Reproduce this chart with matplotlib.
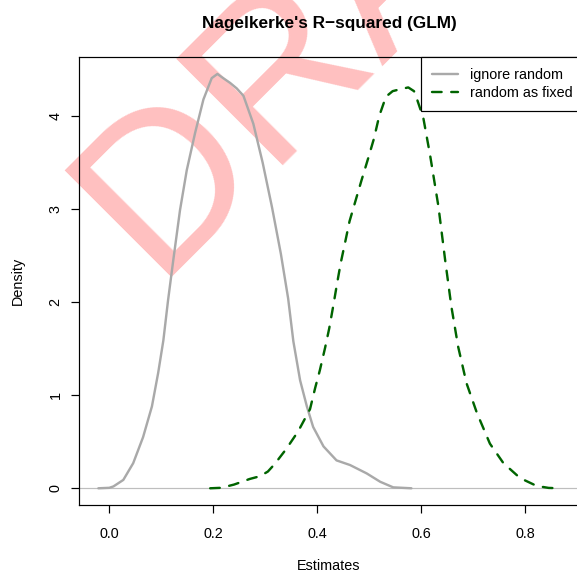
import matplotlib
matplotlib.use("Agg")
import matplotlib.pyplot as plt

plt.rcParams['font.family'] = ['Liberation Sans', 'DejaVu Sans']

# density estimates of the two R-squared variants
ignore_x = [-0.021, 0.000, 0.008, 0.027, 0.046, 0.065, 0.082, 0.094, 0.104, 0.113,
            0.123, 0.136, 0.149, 0.165, 0.181, 0.197, 0.208, 0.219, 0.232, 0.245,
            0.258, 0.277, 0.295, 0.313, 0.330, 0.344, 0.354, 0.367, 0.380, 0.392,
            0.412, 0.437, 0.463, 0.495, 0.521, 0.546, 0.581]
ignore_y = [0.0, 0.005, 0.02, 0.09, 0.27, 0.55, 0.88, 1.24, 1.59, 2.02,
            2.45, 2.99, 3.42, 3.82, 4.18, 4.41, 4.455, 4.41, 4.36, 4.30,
            4.22, 3.92, 3.50, 3.02, 2.52, 2.04, 1.58, 1.16, 0.88, 0.66,
            0.45, 0.30, 0.25, 0.16, 0.07, 0.01, 0.0]

fixed_x = [0.194, 0.215, 0.240, 0.270, 0.290, 0.305, 0.318, 0.340, 0.363, 0.386,
           0.396, 0.405, 0.415, 0.423, 0.431, 0.438, 0.445, 0.453, 0.462, 0.474,
           0.485, 0.498, 0.509, 0.519, 0.532, 0.545, 0.559, 0.575, 0.586, 0.592,
           0.604, 0.617, 0.633, 0.646, 0.658, 0.671, 0.687, 0.707, 0.732, 0.758,
           0.790, 0.822, 0.845, 0.867]
fixed_y = [0.0, 0.005, 0.04, 0.10, 0.13, 0.18, 0.26, 0.42, 0.61, 0.85,
           1.08, 1.27, 1.51, 1.72, 1.97, 2.20, 2.42, 2.63, 2.87, 3.10,
           3.31, 3.55, 3.76, 4.00, 4.21, 4.27, 4.29, 4.31, 4.27, 4.18,
           3.98, 3.58, 3.03, 2.45, 1.95, 1.52, 1.13, 0.81, 0.48, 0.27,
           0.11, 0.025, 0.004, 0.0]

xticks = [0.0, 0.2, 0.4, 0.6, 0.8]
yticks = [0, 1, 2, 3, 4]
labels = ['ignore random', 'random as fixed']

fs = 10.37   # base text size
lw = 0.864   # thin lines

fig = plt.figure(figsize=(5.77, 5.73), dpi=100)
ax = fig.add_axes([0.1374, 0.1187, 0.8655, 0.7810])
ax.patch.set_alpha(0)

# DRAFT watermark behind everything
fig.text(0.2669, 0.5161, 'DRAFT', fontsize=157.5, color=(1, 0, 0, 0.25),
         rotation=45, rotation_mode='anchor', ha='left', va='baseline', zorder=-5)

ax.axhline(0, color='#BEBEBE', lw=lw, zorder=1)
ax.plot(ignore_x, ignore_y, color='darkgray', lw=1.73, solid_capstyle='round',
        solid_joinstyle='round', label=labels[0], zorder=3)
ax.plot(fixed_x, fixed_y, color='darkgreen', lw=1.73, linestyle=(0, (4, 4)),
        dash_capstyle='round', label=labels[1], zorder=3)

ax.set_xlim(-0.0577, 0.9027)
ax.set_ylim(-0.1796, 4.632)
ax.set_xticks(xticks)
ax.set_xticklabels(['{:.1f}'.format(v) for v in xticks])
ax.set_yticks(yticks)
ax.set_yticklabels([str(v) for v in yticks], rotation=90, va='center')
ax.tick_params(axis='both', length=5.8, width=lw, labelsize=fs, colors='black')
ax.tick_params(axis='x', pad=10.3)
ax.tick_params(axis='y', pad=6.3)
for s in ax.spines.values():
    s.set_linewidth(lw)

ax.text(0.5, -0.1363, 'Estimates', transform=ax.transAxes, ha='center', va='center',
        fontsize=fs)
ax.text(-0.1227, 0.5, 'Density', transform=ax.transAxes, ha='center', va='center',
        rotation=90, fontsize=fs)
ax.text(0.5, 1.0653, "Nagelkerke's R\u2212squared (GLM)", transform=ax.transAxes,
        ha='center', va='baseline', fontsize=12.44, fontweight='bold')

leg = ax.legend(loc='upper right', bbox_to_anchor=(1.01, 1.0), borderaxespad=0,
                fontsize=fs, fancybox=False, framealpha=1, edgecolor='black',
                handlelength=1.85, handletextpad=0.83, borderpad=0.75,
                labelspacing=0.26)
leg.get_frame().set_linewidth(lw)

fig.savefig('out.png', dpi=100)
